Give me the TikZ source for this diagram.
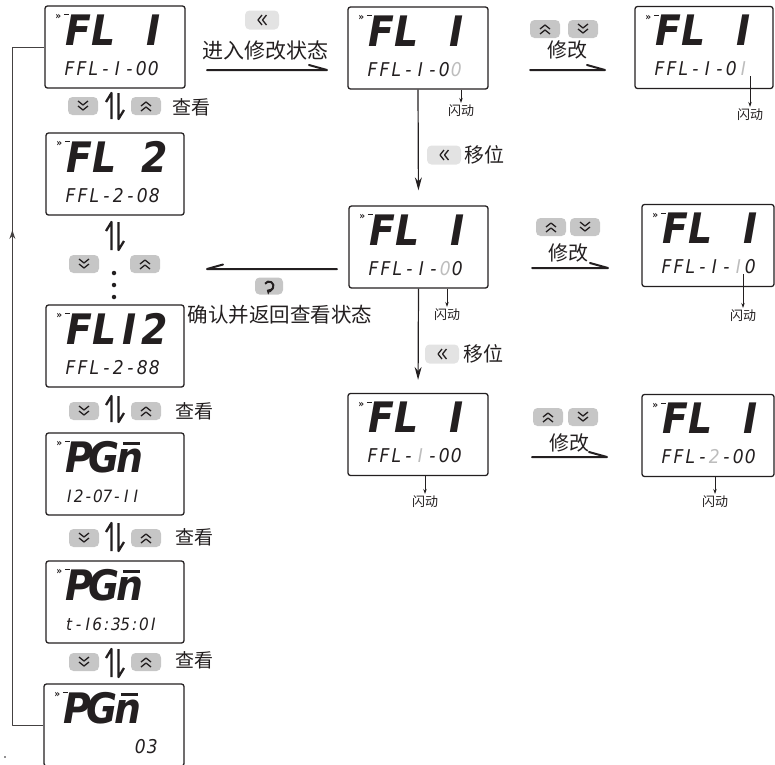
\documentclass[tikz,border=0pt]{standalone}
\usepackage{fontspec}
\setmainfont{DejaVu Sans}
\newfontfamily\cjk{Noto Sans CJK SC}
\newfontfamily\segf{DejaVu Sans Condensed}
\usetikzlibrary{arrows.meta,decorations.markings}
\definecolor{ink}{HTML}{231F20}
\definecolor{btndark}{HTML}{C6C6C6}
\definecolor{btnlight}{HTML}{E3E3E3}
\definecolor{flash}{HTML}{BDBDBD}
\newcommand{\nbar}{\rlap{\hspace{0.16em}\rule[0.64em]{0.42em}{0.09em}}n}
\newcommand{\flz}{{\color{flash}0}}
\newcommand{\flo}{{\color{flash}I}}
\newcommand{\flt}{{\color{flash}2}}
\def\cellw{0.63em}
\def\seqx#1{\ifx#1\relax\else\makebox[\cellw][c]{#1}\expandafter\seqx\fi}
\newcommand{\mono}[2][0.63em]{\def\cellw{#1}\seqx#2\relax}
\tikzset{
  disp/.style={draw=ink, line width=1.3pt, rounded corners=2.5pt, minimum height=82pt, inner sep=0pt},
  toptext/.style={anchor=base west, inner sep=0pt, text=ink, font=\segf\bfseries\itshape\fontsize{42}{42}\selectfont},
  bottext/.style={anchor=base west, inner sep=0pt, text=ink, font=\segf\itshape\fontsize{19}{19}\selectfont},
  indic/.style={inner sep=0pt, text=ink, font=\segf\bfseries\fontsize{10}{10}\selectfont},
  indline/.style={draw=ink, line width=1.2pt},
  btnd/.style={fill=btndark, rounded corners=4.5pt, minimum width=30pt, minimum height=18pt, inner sep=0pt},
  btnl/.style={fill=btnlight, rounded corners=4.5pt, minimum width=34pt, minimum height=19pt, inner sep=0pt},
  chevl/.style={draw=ink, line width=1.3pt},
  cjklabel/.style={inner sep=0pt, text=ink, font=\cjk\fontsize{20}{20}\selectfont},
  looklabel/.style={anchor=west, inner sep=0pt, text=ink, font=\cjk\fontsize{19}{19}\selectfont},
  flashlabel/.style={inner sep=0pt, text=ink, font=\cjk\fontsize{13}{13}\selectfont},
  flarr/.style={draw=ink, line width=0.7pt, shorten >=2pt, -{Stealth[length=5pt,width=3.5pt]}},
  vert/.style={draw=ink, line width=1.2pt, -{Stealth[length=13pt,width=7pt]}},
  harp/.style={draw=ink, line width=2pt, line cap=round},
  updn/.style={draw=ink, line width=2.3pt},
  loopline/.style={draw=ink!85, line width=1pt},
  dotn/.style={circle, fill=ink, inner sep=0pt, minimum size=4.5pt}
}
\newcommand{\dispbox}[6]{%
  \node[disp, minimum width=#4pt] (#1) at (#2,#3) {};
  \node[toptext] (#1t) at ([shift={(21,40)}]#1.north west) {\mono[0.6em]{#5}};
  \node[bottext] (#1b) at ([shift={(19,70)}]#1.north west) {#6};
  \node[indic] (#1i) at ([shift={(14,12)}]#1.north west) {»};
  \draw[indline] ([shift={(19.5,9.5)}]#1.north west) -- ([shift={(24.5,9.5)}]#1.north west);
}
\newcommand{\dnbtn}[3]{%
  \node[btnd] (#1) at (#2,#3) {};
  \draw[chevl] ([shift={(-5,-5)}]#1.center) -- ([shift={(0,-1)}]#1.center) -- ([shift={(5,-5)}]#1.center);
  \draw[chevl] ([shift={(-5,0)}]#1.center) -- ([shift={(0,4)}]#1.center) -- ([shift={(5,0)}]#1.center);
}
\newcommand{\upbtn}[3]{%
  \node[btnd] (#1) at (#2,#3) {};
  \draw[chevl] ([shift={(-5,5)}]#1.center) -- ([shift={(0,1)}]#1.center) -- ([shift={(5,5)}]#1.center);
  \draw[chevl] ([shift={(-5,0)}]#1.center) -- ([shift={(0,-4)}]#1.center) -- ([shift={(5,0)}]#1.center);
}
\newcommand{\lfbtn}[3]{%
  \node[btnl] (#1) at (#2,#3) {};
  \draw[chevl] ([shift={(0,-5)}]#1.center) -- ([shift={(-4,0)}]#1.center) -- ([shift={(0,5)}]#1.center);
  \draw[chevl] ([shift={(4.5,-5)}]#1.center) -- ([shift={(0.5,0)}]#1.center) -- ([shift={(4.5,5)}]#1.center);
}
\newcommand{\updown}[4]{%
  \coordinate (#1) at (#2,#3);
  \draw[updn] ([shift={(-3.5,#4)}]#1) -- ([shift={(-3.5,-#4)}]#1) -- ([shift={(-9,-#4+9)}]#1);
  \draw[updn] ([shift={(3.5,-#4)}]#1) -- ([shift={(3.5,#4)}]#1) -- ([shift={(9,#4-9)}]#1);
}
\begin{document}
\begin{tikzpicture}[x=1pt, y=-1pt, line join=round]
\useasboundingbox (0,0) rectangle (775,764);

% left column displays
\dispbox{L1}{115}{47}{140}{FL~I}{\mono{FFL-I-00}}
\dispbox{L2}{115}{174}{138}{FL~2}{\mono{FFL-2-08}}
\dispbox{L3}{115}{346}{138}{FLI2}{\mono{FFL-2-88}}
\dispbox{L4}{115}{474}{138}{PG\nbar}{\fontsize{17}{17}\selectfont\mono[0.56em]{I2-07-II}}
\dispbox{L5}{115}{602}{138}{PG\nbar}{\fontsize{17}{17}\selectfont\mono[0.55em]{t-I6:35:0I}}
\dispbox{L6}{114}{725}{140}{PG\nbar}{\mono{~~~~~~03}}

% middle and right displays
\dispbox{M1}{418}{48}{140}{FL~I}{\mono{FFL-I-0\flz}}
\dispbox{M2}{418.5}{247}{139}{FL~I}{\mono{FFL-I-\flz0}}
\dispbox{M3}{418}{434.5}{140}{FL~I}{\mono{FFL-\flo-00}}
\dispbox{R1}{704}{47.5}{138}{FL~I}{\mono{FFL-I-0\flo}}
\dispbox{R2}{708}{245.5}{132}{FL~I}{\mono{FFL-I-\flo0}}
\dispbox{R3}{708}{435.5}{132}{FL~I}{\mono{FFL-\flt-00}}

% left column browsing rows
\updown{U1}{115}{106}{13}
\dnbtn{D1}{83}{106} \upbtn{P1}{146}{106}
\node[looklabel] (K1) at (172,107) {查看};
\updown{U2}{115}{236}{14}
\dnbtn{D2}{84}{264} \upbtn{P2}{145}{264}
\node[dotn] (d1) at (114,273) {};
\node[dotn] (d2) at (114,285) {};
\node[dotn] (d3) at (114,297) {};
\updown{U3}{115}{409}{13}
\dnbtn{D3}{84}{411} \upbtn{P3}{146}{411}
\node[looklabel] (K3) at (175,411) {查看};
\updown{U4}{115}{537}{14}
\dnbtn{D4}{84}{538} \upbtn{P4}{146}{538}
\node[looklabel] (K4) at (175,537) {查看};
\updown{U5}{115}{663}{14}
\dnbtn{D5}{84}{662} \upbtn{P5}{146}{662}
\node[looklabel] (K5) at (175,660) {查看};

% return loop
\draw[loopline, postaction=decorate, decoration={markings, mark=at position 526pt with {\arrow{Stealth[length=9pt,width=6pt]}}}]
  (L6.west) -- ++(-31,0) |- (L1.west);

% enter edit state
\lfbtn{B1}{262}{20}
\node[cjklabel, font=\cjk\fontsize{21}{21}\selectfont] (E1) at (265,51) {进入修改状态};
\coordinate (h1s) at (207,70);
\coordinate (h1e) at (327,70);
\draw[harp] (h1s) -- (h1e) -- ++(-18,-5);

% modify arrows
\upbtn{Q1}{545}{29} \dnbtn{Q2}{583}{29}
\node[cjklabel] (T1) at (567,50) {修改};
\coordinate (m1s) at (530,70); \coordinate (m1e) at (605,70);
\draw[harp] (m1s) -- (m1e) -- ++(-18,-5);

\upbtn{Q3}{551}{227} \dnbtn{Q4}{585}{227}
\node[cjklabel] (T2) at (568,253) {修改};
\coordinate (m2s) at (532,268); \coordinate (m2e) at (608,268);
\draw[harp] (m2s) -- (m2e) -- ++(-18,-5);

\upbtn{Q5}{548}{417} \dnbtn{Q6}{583}{417}
\node[cjklabel] (T3) at (569,443) {修改};
\coordinate (m3s) at (532,457); \coordinate (m3e) at (607,457);
\draw[harp] (m3s) -- (m3e) -- ++(-18,-5);

% shift arrows
\draw[vert, shorten >=15pt] (M1.south) -- (M2.north);
\lfbtn{B5}{444}{155}
\node[cjklabel, anchor=west] (S1) at (464,155) {移位};
\draw[vert, shorten >=13pt] (M2.south) -- (M3.north);
\lfbtn{B6}{442}{354}
\node[cjklabel, anchor=west] (S2) at (463,354) {移位};

% confirm and return
\coordinate (h2s) at (337,269);
\coordinate (h2e) at (207,269);
\draw[harp] (h2s) -- (h2e) -- ++(16,-4.5);
\node[btnd, minimum width=28pt, minimum height=17pt] (B2) at (269,286) {};
\draw[line width=2pt, draw=ink, -{Triangle[length=3.5pt,width=6.5pt]}]
  ([shift={(210:4.5)}]B2.center) arc[start angle=210, end angle=480, radius=4.5];
\node[cjklabel, font=\cjk\fontsize{20.5}{20.5}\selectfont] (C1) at (280,315) {确认并返回查看状态};

% flashing markers
\node[flashlabel] (F1) at (461,111) {闪动};
\draw[flarr] (M1.south -| F1.north) -- (F1.north);
\node[flashlabel] (F2) at (750,115) {闪动};
\draw[flarr] (R1b.south -| F2.north) -- (F2.north);
\node[flashlabel] (F3) at (447,315) {闪动};
\draw[flarr] (M2.south -| F3.north) -- (F3.north);
\node[flashlabel] (F4) at (743,316) {闪动};
\draw[flarr] (R2b.south -| F4.north) -- (F4.north);
\node[flashlabel] (F5) at (425,502) {闪动};
\draw[flarr] (M3.south -| F5.north) -- (F5.north);
\node[flashlabel] (F6) at (715,502) {闪动};
\draw[flarr] (R3.south -| F6.north) -- (F6.north);

\node[circle, fill=ink, inner sep=0pt, minimum size=1.6pt] (per) at (5,757) {};
\end{tikzpicture}
\end{document}
